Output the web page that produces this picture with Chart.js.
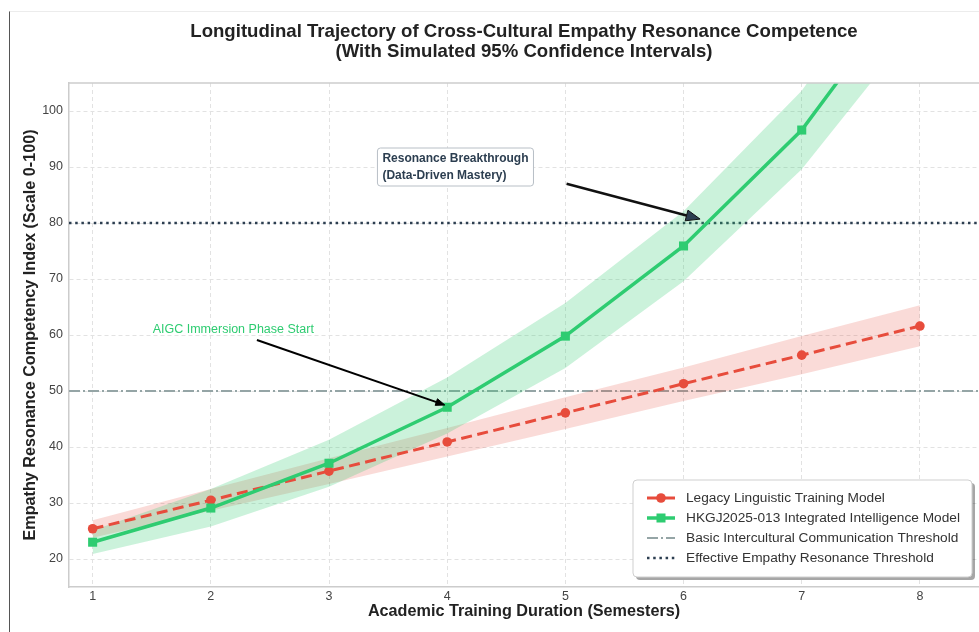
<!DOCTYPE html>
<html><head><meta charset="utf-8">
<script src="https://cdn.jsdelivr.net/npm/chart.js@4/dist/chart.umd.min.js"></script>
<style>
html,body{margin:0;padding:0;background:#fff;}
#wrap{position:relative;width:979px;height:632px;overflow:hidden;}
#frame{position:absolute;left:9px;top:11px;right:-2px;bottom:-2px;border-left:1.5px solid #555;border-top:1px solid #ececec;pointer-events:none;}
canvas{display:block;}
</style></head><body>
<div id="wrap"><canvas id="c" width="979" height="632"></canvas><div id="frame"></div></div>
<script>
// ---- data ----
const semesters = [1, 2, 3, 4, 5, 6, 7, 8];
const legacyValues = [25.4, 30.5, 35.7, 40.9, 46.1, 51.3, 56.4, 61.6];
const legacyLower  = [23.8, 28.6, 33.4, 38.3, 43.2, 48.2, 53.0, 58.0];
const legacyUpper  = [26.9, 32.5, 38.0, 43.4, 48.9, 54.2, 59.8, 65.3];
const hkgjValues   = [23.0, 29.1, 37.1, 47.1, 59.8, 75.9, 96.6, 125.0];
const hkgjLower    = [20.9, 25.8, 32.9, 42.4, 54.1, 69.6, 89.6, 116.0];
const hkgjUpper    = [25.1, 32.5, 41.3, 52.4, 65.7, 82.1, 103.6, 134.0];
const xTickLabels  = [1, 2, 3, 4, 5, 6, 7, 8];
const yTickLabels  = [20, 30, 40, 50, 60, 70, 80, 90, 100];
const thresholdValues = [50, 80];
const seriesNames = ['Legacy Linguistic Training Model', 'HKGJ2025-013 Integrated Intelligence Model'];
const thresholdNames = ['Basic Intercultural Communication Threshold', 'Effective Empathy Resonance Threshold'];
const titleLines = ['Longitudinal Trajectory of Cross-Cultural Empathy Resonance Competence', '(With Simulated 95% Confidence Intervals)'];
const xTitle = 'Academic Training Duration (Semesters)';
const yTitle = 'Empathy Resonance Competency Index (Scale 0-100)';
// annotations (data coordinates)
const aigcText = 'AIGC Immersion Phase Start';
const aigcTextAt = [2.19, 60.9];
const aigcArrowFrom = [2.39, 59.1];
const aigcArrowTo = [3.98, 47.5];
const breakText = ['Resonance Breakthrough', '(Data-Driven Mastery)'];
const breakTextAt = [4.07, 90.0];
const breakArrowFrom = [5.01, 87.0];
const breakArrowTo = [6.14, 80.7];

const FONT = '"Liberation Sans", Arial, Helvetica, sans-serif';
const RED = '#e74c3c', GREEN = '#2ecc71', GRAY = '#95a5a6', NAVY = '#2c3e50';

const pts = (vals) => semesters.map((s, i) => ({x: s, y: vals[i]}));

function drawArrow(ctx, x1, y1, x2, y2, lw, lineColor, headColor, hl, hw) {
  const ang = Math.atan2(y2 - y1, x2 - x1);
  const bx = x2 - Math.cos(ang) * hl, by = y2 - Math.sin(ang) * hl;
  ctx.save();
  ctx.strokeStyle = lineColor; ctx.lineWidth = lw; ctx.lineCap = 'butt';
  ctx.beginPath(); ctx.moveTo(x1, y1); ctx.lineTo(bx + Math.cos(ang) * 1, by + Math.sin(ang) * 1); ctx.stroke();
  ctx.fillStyle = headColor; ctx.strokeStyle = lineColor; ctx.lineWidth = 1;
  ctx.beginPath();
  ctx.moveTo(x2, y2);
  ctx.lineTo(bx + Math.sin(ang) * hw / 2, by - Math.cos(ang) * hw / 2);
  ctx.lineTo(bx - Math.sin(ang) * hw / 2, by + Math.cos(ang) * hw / 2);
  ctx.closePath(); ctx.fill(); ctx.stroke();
  ctx.restore();
}

function roundRect(ctx, x, y, w, h, r) {
  ctx.beginPath();
  ctx.moveTo(x + r, y);
  ctx.lineTo(x + w - r, y); ctx.quadraticCurveTo(x + w, y, x + w, y + r);
  ctx.lineTo(x + w, y + h - r); ctx.quadraticCurveTo(x + w, y + h, x + w - r, y + h);
  ctx.lineTo(x + r, y + h); ctx.quadraticCurveTo(x, y + h, x, y + h - r);
  ctx.lineTo(x, y + r); ctx.quadraticCurveTo(x, y, x + r, y);
  ctx.closePath();
}

const thresholdPlugin = {
  id: 'thresholds',
  beforeDatasetsDraw(chart) {
    const {ctx, chartArea: a, scales: {y}} = chart;
    ctx.save();
    ctx.beginPath(); ctx.rect(a.left, a.top, a.right - a.left, a.bottom - a.top); ctx.clip();
    let py = y.getPixelForValue(thresholdValues[0]);
    ctx.strokeStyle = GRAY; ctx.lineWidth = 1.8; ctx.setLineDash([11, 3, 2, 3]);
    ctx.beginPath(); ctx.moveTo(a.left, py); ctx.lineTo(a.right, py); ctx.stroke();
    py = y.getPixelForValue(thresholdValues[1]);
    ctx.strokeStyle = NAVY; ctx.lineWidth = 2.5; ctx.setLineDash([2.5, 3.7]);
    ctx.beginPath(); ctx.moveTo(a.left, py); ctx.lineTo(a.right, py); ctx.stroke();
    ctx.restore();
  },
  afterDatasetsDraw(chart) {
    const {ctx, scales: {x, y}} = chart;
    ctx.save();
    ctx.font = '12.5px ' + FONT; ctx.fillStyle = '#2ecc71';
    ctx.textAlign = 'center'; ctx.textBaseline = 'middle';
    ctx.fillText(aigcText, x.getPixelForValue(aigcTextAt[0]), y.getPixelForValue(aigcTextAt[1]));
    drawArrow(ctx, x.getPixelForValue(aigcArrowFrom[0]), y.getPixelForValue(aigcArrowFrom[1]),
      x.getPixelForValue(aigcArrowTo[0]), y.getPixelForValue(aigcArrowTo[1]), 2, '#000', '#000', 9, 7);
    drawArrow(ctx, x.getPixelForValue(breakArrowFrom[0]), y.getPixelForValue(breakArrowFrom[1]),
      x.getPixelForValue(breakArrowTo[0]), y.getPixelForValue(breakArrowTo[1]), 2.5, '#111', NAVY, 14, 11);
    ctx.font = 'bold 12px ' + FONT;
    const w = Math.max(...breakText.map(t => ctx.measureText(t).width));
    const cx = x.getPixelForValue(breakTextAt[0]), cy = y.getPixelForValue(breakTextAt[1]);
    const bw = w + 10, bh = 38;
    ctx.fillStyle = '#fff'; ctx.strokeStyle = '#b8bfc6'; ctx.lineWidth = 1;
    roundRect(ctx, cx - bw / 2, cy - bh / 2, bw, bh, 3); ctx.fill(); ctx.stroke();
    ctx.fillStyle = NAVY; ctx.textAlign = 'left'; ctx.textBaseline = 'middle';
    ctx.fillText(breakText[0], cx - w / 2, cy - 8.5);
    ctx.fillText(breakText[1], cx - w / 2, cy + 8.5);
    ctx.restore();
  },
  afterDraw(chart) {
    const {ctx, chartArea: a} = chart;
    ctx.save();
    ctx.strokeStyle = '#cccccc'; ctx.lineWidth = 1.5;
    ctx.beginPath(); ctx.moveTo(a.left, a.top); ctx.lineTo(a.right, a.top); ctx.stroke();
    const cx = (a.left + a.right) / 2;
    ctx.fillStyle = '#222'; ctx.textAlign = 'center'; ctx.textBaseline = 'middle';
    ctx.font = 'bold 18.6px ' + FONT;
    ctx.fillText(titleLines[0], cx, 32);
    ctx.fillText(titleLines[1], cx, 52);
    ctx.font = 'bold 16.2px ' + FONT;
    ctx.fillText(xTitle, cx, 612);
    ctx.translate(31, (a.top + a.bottom) / 2);
    ctx.rotate(-Math.PI / 2);
    ctx.fillText(yTitle, 0, 0);
    ctx.restore();

    // legend
    ctx.save();
    const lx = 633, ly = 480, lw = 339, lh = 97;
    ctx.fillStyle = 'rgba(0,0,0,0.35)';
    roundRect(ctx, lx + 3, ly + 3, lw, lh, 4); ctx.fill();
    ctx.fillStyle = '#fff'; ctx.strokeStyle = '#cfcfcf'; ctx.lineWidth = 1;
    roundRect(ctx, lx, ly, lw, lh, 4); ctx.fill(); ctx.stroke();
    const rows = [498, 518, 538, 558];
    const sx1 = 647, sx2 = 675, smid = 661;
    ctx.strokeStyle = RED; ctx.lineWidth = 3; ctx.setLineDash([]);
    ctx.beginPath(); ctx.moveTo(sx1, rows[0]); ctx.lineTo(sx2, rows[0]); ctx.stroke();
    ctx.fillStyle = RED; ctx.beginPath(); ctx.arc(smid, rows[0], 4.8, 0, Math.PI * 2); ctx.fill();
    ctx.strokeStyle = GREEN; ctx.lineWidth = 3.5;
    ctx.beginPath(); ctx.moveTo(sx1, rows[1]); ctx.lineTo(sx2, rows[1]); ctx.stroke();
    ctx.fillStyle = GREEN; ctx.fillRect(smid - 4.5, rows[1] - 4.5, 9, 9);
    ctx.strokeStyle = GRAY; ctx.lineWidth = 1.8; ctx.setLineDash([11, 3, 2, 3]);
    ctx.beginPath(); ctx.moveTo(sx1, rows[2]); ctx.lineTo(sx2, rows[2]); ctx.stroke();
    ctx.strokeStyle = NAVY; ctx.lineWidth = 2.5; ctx.setLineDash([2.5, 3.7]);
    ctx.beginPath(); ctx.moveTo(sx1, rows[3]); ctx.lineTo(sx2, rows[3]); ctx.stroke();
    ctx.setLineDash([]);
    ctx.fillStyle = '#333'; ctx.font = '13.7px ' + FONT; ctx.textAlign = 'left'; ctx.textBaseline = 'middle';
    const names = seriesNames.concat(thresholdNames);
    names.forEach((n, i) => ctx.fillText(n, 686, rows[i] + 0.5));
    ctx.restore();
  }
};

const bandStyle = (color, fill) => ({
  borderColor: 'transparent', borderWidth: 0, pointRadius: 0, pointHoverRadius: 0,
  backgroundColor: color, fill: fill, tension: 0
});

new Chart(document.getElementById('c'), {
  type: 'line',
  data: {
    datasets: [
      Object.assign({label: 'legacyLower', data: pts(legacyLower), order: 10}, bandStyle('transparent', false)),
      Object.assign({label: 'legacyUpper', data: pts(legacyUpper), order: 10}, bandStyle('rgba(231,76,60,0.2)', '-1')),
      Object.assign({label: 'hkgjLower', data: pts(hkgjLower), order: 9}, bandStyle('transparent', false)),
      Object.assign({label: 'hkgjUpper', data: pts(hkgjUpper), order: 9}, bandStyle('rgba(46,204,113,0.25)', '-1')),
      {
        label: seriesNames[0], data: pts(legacyValues), order: 1,
        borderColor: RED, borderWidth: 3, borderDash: [11, 5.5], fill: false,
        pointStyle: 'circle', pointRadius: 4.8, pointBackgroundColor: RED, pointBorderColor: RED, pointBorderWidth: 0
      },
      {
        label: seriesNames[1], data: pts(hkgjValues), order: 0,
        borderColor: GREEN, borderWidth: 3.5, fill: false,
        pointStyle: 'rect', pointRadius: 6.4, pointBackgroundColor: GREEN, pointBorderColor: GREEN, pointBorderWidth: 0
      }
    ]
  },
  options: {
    responsive: false, animation: false, devicePixelRatio: 1,
    layout: {autoPadding: false, padding: {top: 83, left: 0, right: 0, bottom: 0}},
    plugins: {legend: {display: false}, title: {display: false}, tooltip: {enabled: false}},
    scales: {
      x: {
        type: 'linear', min: 0.8, max: 8.5,
        afterBuildTicks: s => { s.ticks = xTickLabels.map(v => ({value: v})); },
        afterFit: s => { s.height = 45; s.paddingLeft = 0; s.paddingRight = 0; },
        ticks: {font: {family: FONT, size: 12.5}, color: '#444', padding: 2, autoSkip: false, maxRotation: 0},
        grid: {color: '#e2e2e2', lineWidth: 1, drawTicks: false},
        border: {color: '#cccccc', width: 1.5, dash: [4, 3]}
      },
      y: {
        min: 15, max: 105,
        afterBuildTicks: s => { s.ticks = yTickLabels.map(v => ({value: v})); },
        afterFit: s => { s.width = 69; s.paddingTop = 0; s.paddingBottom = 0; },
        ticks: {font: {family: FONT, size: 12.5}, color: '#444', padding: 6, autoSkip: false},
        grid: {color: '#e2e2e2', lineWidth: 1, drawTicks: false},
        border: {color: '#cccccc', width: 1.5, dash: [4, 3]}
      }
    }
  },
  plugins: [thresholdPlugin]
});
</script>
</body></html>
